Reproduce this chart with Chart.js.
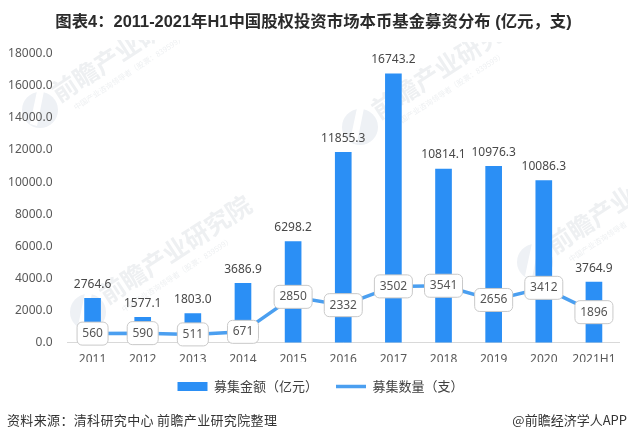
<!DOCTYPE html>
<html>
<head>
<meta charset="utf-8">
<title>图表4</title>
<script src="https://cdn.jsdelivr.net/npm/chart.js@4"></script>
<style>
html, body { margin: 0; padding: 0; background: #fff; }
#wrap { position: relative; width: 628px; height: 441px; overflow: hidden; }
#myChart { position: absolute; left: 0; top: 0; }
.foot { position: absolute; top: 411px; font: 13px "Noto Sans CJK SC", sans-serif; color: #333; line-height: 18px; white-space: nowrap; }
#source { left: 7px; letter-spacing: 0.35px; }
#brand { right: 1px; }
</style>
</head>
<body>
<div id="wrap">
	<canvas id="myChart" width="628" height="441"></canvas>
	<div class="foot" id="source">资料来源：清科研究中心 前瞻产业研究院整理</div>
	<div class="foot" id="brand">@前瞻经济学人APP</div>
</div>
<script>
let years = ['2011', '2012', '2013', '2014', '2015', '2016', '2017', '2018', '2019', '2020', '2021H1'];
let amounts = [2764.6, 1577.1, 1803.0, 3686.9, 6298.2, 11855.3, 16743.2, 10814.1, 10976.3, 10086.3, 3764.9];
let counts = [560, 590, 511, 671, 2850, 2332, 3502, 3541, 2656, 3412, 1896];

let textFont = '"Noto Sans", "Noto Sans CJK SC", sans-serif';

// logo positions of the faint watermark, clipped to the band it shows in
let marks = [
	{ x: 40, y: 110, top: 40, right: 628 },
	{ x: 88, y: 312, top: 0, right: 628 },
	{ x: 360, y: 127, top: 42, right: 628 },
	{ x: 535, y: 262, top: 0, right: 628 }
];

function drawMark(c, m) {
	c.save();
	c.beginPath();
	c.rect(0, m.top, m.right, 441 - m.top);
	c.clip();
	c.translate(m.x, m.y);
	c.fillStyle = '#eef1f5';
	c.beginPath();
	c.arc(0, 0, 18, 0, Math.PI * 2);
	c.fill();
	c.fillStyle = '#fff';
	c.beginPath();
	c.moveTo(-10, 14);
	c.lineTo(-3, -19);
	c.lineTo(4, -19);
	c.lineTo(-3, 16);
	c.fill();
	c.rotate(-33 * Math.PI / 180);
	c.fillStyle = '#eef0f2';
	c.font = 'bold 25px "Noto Sans CJK SC"';
	c.textBaseline = 'middle';
	c.fillText('前瞻产业研究院', 20, -5);
	c.font = '7.5px "Noto Sans CJK SC"';
	c.fillText('中国产业咨询领导者（股票：839599）', 30, 17);
	c.restore();
}

let watermark = {
	id: 'watermark',
	beforeDraw(chart) {
		marks.forEach(m => drawMark(chart.ctx, m));
	},
	afterLayout(chart) {
		// title and legend are centred on the page, not on the padded plot
		chart.legend.left += 11;
		chart.legend.right += 11;
		chart.titleBlock.left += 4;
		chart.titleBlock.right += 4;
	}
};

let valueLabels = {
	id: 'valueLabels',
	afterDatasetsDraw(chart) {
		let c = chart.ctx;
		let barMeta = chart.getDatasetMeta(0);
		let lineMeta = chart.getDatasetMeta(1);
		c.save();
		c.textAlign = 'center';
		c.textBaseline = 'middle';
		c.font = '12px ' + textFont;
		for(let i = 0; i < years.length; i++) {
			c.fillStyle = '#484848';
			c.fillText(amounts[i].toFixed(1), barMeta.data[i].x, barMeta.data[i].y - 14);

			let pt = lineMeta.data[i];
			let txt = String(counts[i]);
			let w = txt.length > 3 ? 38 : 31;
			let h = 23;
			c.beginPath();
			c.roundRect(pt.x - w / 2, pt.y - h / 2, w, h, 5);
			c.fillStyle = '#fff';
			c.fill();
			c.lineWidth = 1;
			c.strokeStyle = '#c9c9c9';
			c.stroke();
			c.fillStyle = '#555';
			c.fillText(txt, pt.x, pt.y);
		}
		c.restore();
	}
};

let myChart = new Chart(document.getElementById('myChart'), {
	data: {
		labels: years,
		datasets: [{
			type: 'bar',
			label: '募集金额（亿元）',
			data: amounts,
			backgroundColor: '#2b8ff5',
			barThickness: 16,
			order: 2
		}, {
			type: 'line',
			label: '募集数量（支）',
			data: counts,
			borderColor: '#4b9ff0',
			backgroundColor: '#4b9ff0',
			borderWidth: 3.5,
			pointRadius: 0,
			tension: 0,
			order: 1
		}]
	},
	options: {
		responsive: false,
		animation: false,
		devicePixelRatio: 1,
		layout: { padding: { top: 0, right: 9, bottom: 38, left: 0 } },
		plugins: {
			tooltip: { enabled: false },
			title: {
				display: true,
				text: '图表4：2011-2021年H1中国股权投资市场本币基金募资分布 (亿元，支)',
				color: '#2b2b2b',
				font: { family: '"Liberation Sans", "Noto Sans CJK SC", sans-serif', size: 16.4, weight: 'bold' },
				padding: { top: 13, bottom: 21 }
			},
			legend: {
				position: 'bottom',
				labels: {
					usePointStyle: true,
					pointStyleWidth: 30,
					boxHeight: 9,
					padding: 18,
					color: '#404040',
					font: { family: '"Noto Sans CJK SC", sans-serif', size: 13 },
					sort: (a, b) => a.datasetIndex - b.datasetIndex,
					generateLabels(chart) {
						return chart.data.datasets.map((d, i) => ({
							text: d.label,
							datasetIndex: i,
							fontColor: '#404040',
							fillStyle: d.backgroundColor,
							strokeStyle: d.backgroundColor,
							lineWidth: i === 1 ? 3.5 : 0,
							pointStyle: i === 1 ? 'line' : 'rect'
						}));
					}
				}
			}
		},
		scales: {
			x: {
				afterFit(scale) { scale.height -= 15; },
				grid: { display: false, drawTicks: false },
				border: { display: true, color: '#d9d9d9' },
				ticks: { color: '#595959', padding: 10, maxRotation: 0, autoSkip: false, font: { family: textFont, size: 12 } }
			},
			y: {
				min: 0,
				max: 18000,
				afterFit(scale) { scale.width = 67.5; },
				grid: { display: false, drawTicks: false },
				border: { display: false },
				ticks: {
					stepSize: 2000,
					padding: 15,
					color: '#595959',
					font: { family: textFont, size: 12 },
					callback: v => v.toFixed(1)
				}
			}
		}
	},
	plugins: [watermark, valueLabels]
});
</script>
</body>
</html>
